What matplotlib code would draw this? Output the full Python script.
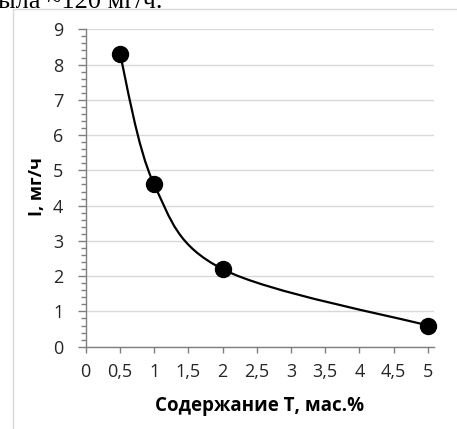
import matplotlib
matplotlib.use("Agg")
import matplotlib.pyplot as plt
from matplotlib.path import Path
from matplotlib.patches import PathPatch, Rectangle
from matplotlib.ticker import MultipleLocator

# data
content_t = [0.5, 1.0, 2.0, 5.0]
intensity = [8.3, 4.6, 2.2, 0.6]
x_ticks = [0, 0.5, 1, 1.5, 2, 2.5, 3, 3.5, 4, 4.5, 5]
x_tick_labels = ["0", "0,5", "1", "1,5", "2", "2,5", "3", "3,5", "4", "4,5", "5"]
y_ticks = [0, 1, 2, 3, 4, 5, 6, 7, 8, 9]

plt.rcParams['font.family'] = ['Open Sans', 'DejaVu Sans']


def smooth_path(xs, ys):
    """Excel-like smoothed line: Catmull-Rom segments as cubic Beziers."""
    pts = list(zip(xs, ys))
    n = len(pts)
    verts = [pts[0]]
    codes = [Path.MOVETO]
    for i in range(n - 1):
        p0 = pts[i - 1] if i > 0 else pts[i]
        p1 = pts[i]
        p2 = pts[i + 1]
        p3 = pts[i + 2] if i + 2 < n else pts[i + 1]
        c1 = (p1[0] + (p2[0] - p0[0]) / 6, p1[1] + (p2[1] - p0[1]) / 6)
        c2 = (p2[0] - (p3[0] - p1[0]) / 6, p2[1] - (p3[1] - p1[1]) / 6)
        verts += [c1, c2, p2]
        codes += [Path.CURVE4] * 3
    return Path(verts, codes)


fig = plt.figure(figsize=(4.57, 4.29), dpi=100)

# chart frame and the cut-off line of text above it
fig.patches.append(Rectangle((13 / 457, -0.1), 1.2, 1 - 9.3 / 429 + 0.1,
                             transform=fig.transFigure, fill=False,
                             edgecolor='#d9d9d9', linewidth=1.0))
fig.text(-0.005, 1 - 8 / 429, "ыла ~120 мг/ч.", family=['Liberation Serif', 'DejaVu Serif'],
         fontsize=19, va='baseline', ha='left', color='black')

ax = fig.add_axes([85.7 / 457, 1 - 346.7 / 429, (434 - 85.7) / 457, (346.7 - 29.3) / 429])

ax.add_patch(PathPatch(smooth_path(content_t, intensity), facecolor='none',
                       edgecolor='black', linewidth=1.6, zorder=3))
ax.plot(content_t, intensity, linestyle='none', marker='o', markersize=11.5,
        color='black', zorder=4, clip_on=False)

ax.set_xlim(0, 5.09)
ax.set_ylim(0, 9)
ax.set_xticks(x_ticks)
ax.set_xticklabels(x_tick_labels)
ax.set_yticks(y_ticks)
ax.yaxis.set_minor_locator(MultipleLocator(0.2))

for side in ['top', 'right']:
    ax.spines[side].set_visible(False)
ax.spines['left'].set_color('#7f7f7f')
ax.spines['bottom'].set_color('#7f7f7f')
ax.spines['left'].set_linewidth(1.0)
ax.spines['bottom'].set_linewidth(1.0)

ax.grid(axis='y', which='major', color='#d9d9d9', linewidth=1.0)
ax.set_axisbelow(True)

ax.tick_params(axis='y', which='major', direction='out', length=6, width=1,
               color='#7f7f7f', labelsize=13, labelcolor='#262626', pad=10)
ax.tick_params(axis='y', which='minor', direction='out', length=3.6, width=1,
               color='#7f7f7f')
ax.tick_params(axis='x', which='major', direction='out', length=4.5, width=1,
               color='#7f7f7f', labelsize=13, labelcolor='#262626', pad=7.5)

# axis titles placed where the reference has them
fig.text(259.5 / 457, 1 - 411 / 429, "Содержание Т, мас.%", fontsize=13.5,
         fontweight='bold', ha='center', va='baseline', color='black')
fig.text(42 / 457, 1 - 186.5 / 429, "I, мг/ч", fontsize=13, fontweight='bold',
         rotation=90, rotation_mode='anchor', ha='center', va='baseline', color='black')

fig.savefig("out.png", dpi=100)
